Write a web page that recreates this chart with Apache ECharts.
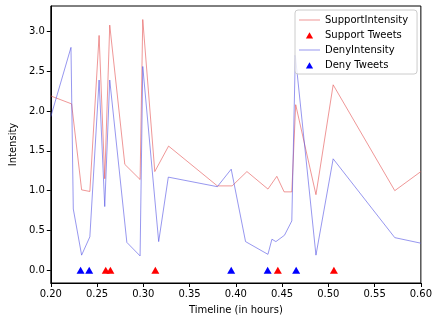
<!DOCTYPE html>
<html>
<head>
<meta charset="utf-8">
<script src="https://cdn.jsdelivr.net/npm/echarts@6/dist/echarts.min.js"></script>
<style>
html,body{margin:0;padding:0;background:#fff;}
#chart{width:435px;height:320px;}
</style>
</head>
<body>
<div id="chart"></div>
<script>
var supportTimes = [0.200, 0.2225, 0.2333, 0.2422, 0.2522, 0.2583, 0.2637, 0.2800, 0.2965, 0.2994, 0.3124, 0.3273, 0.3800, 0.3960, 0.4120, 0.4347, 0.4443, 0.4522, 0.4540, 0.4605, 0.4647, 0.4866, 0.5052, 0.5718, 0.6000];
var supportValues = [2.19, 2.09, 1.01, 0.99, 2.95, 1.15, 3.08, 1.33, 1.14, 3.15, 1.24, 1.56, 1.06, 1.06, 1.24, 1.02, 1.18, 0.985, 1.0, 0.985, 2.08, 0.95, 2.33, 1.00, 1.24];
var denyTimes = [0.200, 0.2218, 0.2243, 0.2333, 0.2422, 0.2522, 0.2583, 0.2637, 0.2822, 0.2965, 0.2994, 0.3166, 0.3270, 0.3800, 0.3950, 0.4105, 0.4347, 0.4390, 0.4433, 0.4526, 0.4605, 0.4643, 0.4866, 0.5052, 0.5718, 0.6000];
var denyValues = [1.93, 2.80, 0.77, 0.19, 0.42, 2.39, 0.80, 2.39, 0.35, 0.18, 2.56, 0.36, 1.17, 1.05, 1.27, 0.36, 0.20, 0.39, 0.36, 0.44, 0.62, 2.70, 0.19, 1.40, 0.41, 0.34];
var supportTweetTimes = [0.2594, 0.2644, 0.3130, 0.4454, 0.5060];
var denyTweetTimes = [0.2322, 0.2415, 0.3950, 0.4344, 0.4652];
var xTicks = [0.20, 0.25, 0.30, 0.35, 0.40, 0.45, 0.50, 0.55, 0.60];
var yTicks = [0.0, 0.5, 1.0, 1.5, 2.0, 2.5, 3.0];

function pairs(xs, ys) { return xs.map(function (x, i) { return [x, ys[i]]; }); }
function zeros(xs) { return xs.map(function (x) { return [x, 0]; }); }

var font = 'DejaVu Sans';
var lineIcon = 'path://M0,0M21,10M0,4.6H21V5.4H0Z';
var triIcon = 'path://M0,0M21,10M6.9,8.6L10.5,2.2L14.1,8.6Z';
var redLine = 'rgba(228,80,80,0.75)';
var blueLine = 'rgba(80,80,228,0.75)';

var chart = echarts.init(document.getElementById('chart'), null, {renderer: 'canvas'});
chart.setOption({
  animation: false,
  backgroundColor: '#fff',
  grid: {left: 50, right: 12, top: 6, bottom: 36, show: true, borderColor: '#000', borderWidth: 1, backgroundColor: 'transparent'},
  legend: {
    orient: 'vertical', left: 295, top: 10,
    padding: [5, 9, 4, 4], itemGap: 5, itemWidth: 21, itemHeight: 10,
    backgroundColor: 'rgba(255,255,255,0.8)', borderColor: '#cccccc', borderWidth: 1, borderRadius: 3,
    textStyle: {fontFamily: font, fontSize: 10, color: '#000'},
    data: [
      {name: 'SupportIntensity', icon: lineIcon},
      {name: 'Support Tweets', icon: triIcon},
      {name: 'DenyIntensity', icon: lineIcon},
      {name: 'Deny Tweets', icon: triIcon}
    ]
  },
  xAxis: {
    type: 'value', min: 0.2, max: 0.6,
    name: 'Timeline (in hours)', nameLocation: 'middle', nameGap: 22,
    nameTextStyle: {fontFamily: font, fontSize: 10, color: '#000'},
    axisLine: {onZero: false, lineStyle: {color: '#000', width: 1}},
    axisTick: {show: true, length: 4, customValues: xTicks, lineStyle: {color: '#000'}},
    axisLabel: {customValues: xTicks, fontFamily: font, fontSize: 10, color: '#000', margin: 6,
      formatter: function (v) { return v.toFixed(2); }},
    splitLine: {show: false}
  },
  yAxis: {
    type: 'value', min: -0.16, max: 3.32,
    name: 'Intensity', nameLocation: 'middle', nameGap: 30,
    nameTextStyle: {fontFamily: font, fontSize: 10, color: '#000'},
    axisLine: {show: true, onZero: false, lineStyle: {color: '#000', width: 1}},
    axisTick: {show: true, length: 4, customValues: yTicks, lineStyle: {color: '#000'}},
    axisLabel: {customValues: yTicks, fontFamily: font, fontSize: 10, color: '#000', margin: 6,
      formatter: function (v) { return v.toFixed(1); }},
    splitLine: {show: false}
  },
  series: [
    {name: 'SupportIntensity', type: 'line', data: pairs(supportTimes, supportValues),
      symbol: 'none', showSymbol: false, color: redLine,
      lineStyle: {color: redLine, width: 0.8}, z: 2},
    {name: 'Support Tweets', type: 'scatter', data: zeros(supportTweetTimes),
      symbol: 'triangle', symbolSize: [8, 7], itemStyle: {color: '#ff0000', opacity: 1}, z: 4},
    {name: 'DenyIntensity', type: 'line', data: pairs(denyTimes, denyValues),
      symbol: 'none', showSymbol: false, color: blueLine,
      lineStyle: {color: blueLine, width: 0.8}, z: 3},
    {name: 'Deny Tweets', type: 'scatter', data: zeros(denyTweetTimes),
      symbol: 'triangle', symbolSize: [8, 7], itemStyle: {color: '#0000ff', opacity: 1}, z: 4}
  ]
});
</script>
</body>
</html>
